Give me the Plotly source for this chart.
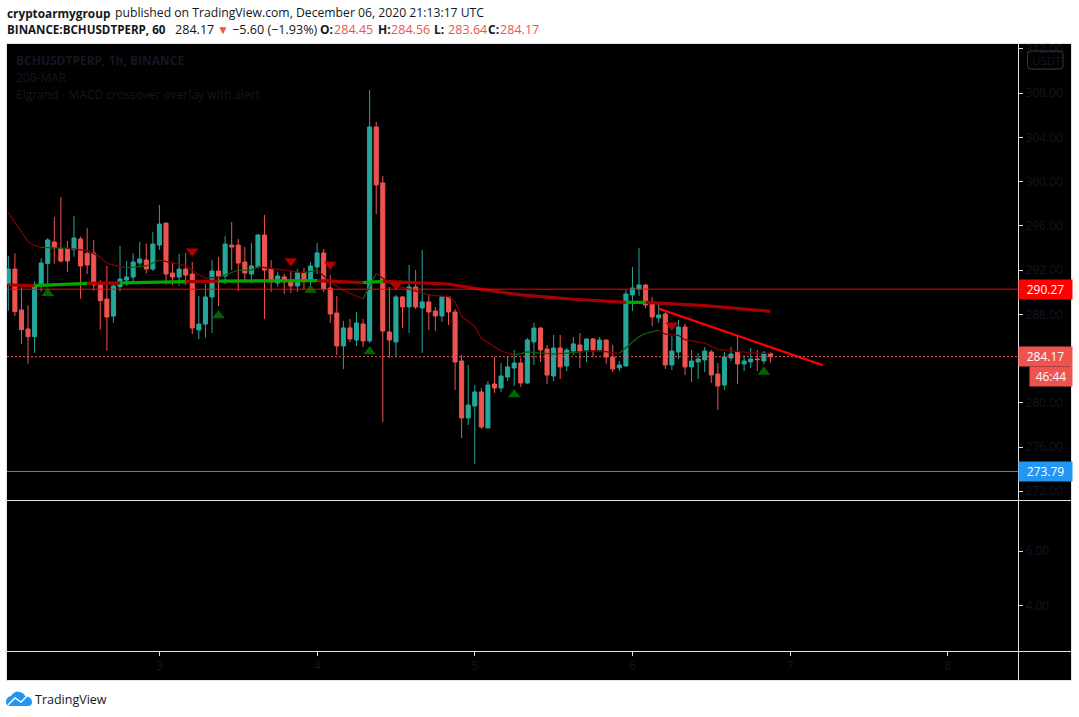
import pandas as pd
import plotly.graph_objects as go

W, H = 1079, 717

# hourly candles
opens = [290.80, 292.09, 288.39, 286.67, 285.98, 290.62, 292.58, 294.54, 293.96, 293.93,
         293.84, 294.81, 293.51, 293.54, 290.71, 289.38, 287.84, 290.50, 291.10, 291.37,
         292.64, 292.91, 292.09, 294.26, 296.25, 291.73, 291.37, 292.09, 291.64, 286.58,
         287.12, 289.56, 291.91, 291.46, 294.26, 294.26, 292.73, 291.64, 292.27, 295.17,
         292.10, 290.83, 291.38, 291.02, 290.56, 291.74, 291.11, 292.28, 293.55, 290.38,
         288.12, 285.14, 286.77, 285.68, 287.13, 285.59, 304.94, 299.88, 286.40, 285.50,
         289.57, 288.67, 290.47, 288.57, 289.12, 288.30, 287.85, 289.57, 288.21, 283.78,
         278.63, 279.71, 280.98, 277.72, 281.70, 281.34, 282.33, 283.15, 283.60, 281.79,
         285.50, 286.76, 284.86, 282.42, 284.95, 283.33, 284.68, 285.23, 284.77, 285.77,
         284.77, 285.68, 284.14, 283.15, 283.33, 289.75, 290.29, 290.65, 288.93, 287.67,
         288.03, 283.42, 284.59, 286.85, 283.24, 283.69, 283.87, 284.59, 282.60, 281.61,
         284.05, 284.59, 283.51, 283.69, 283.96, 283.78, 284.45]
highs = [293.27, 293.51, 290.44, 288.81, 290.98, 293.06, 294.90, 296.80, 298.60, 294.63,
         296.89, 295.02, 295.80, 294.72, 291.10, 292.37, 290.95, 294.17, 292.82, 293.51,
         294.54, 294.41, 295.44, 297.88, 296.25, 292.73, 293.45, 293.54, 292.73, 289.65,
         290.74, 292.91, 293.18, 295.08, 296.34, 294.81, 294.08, 294.44, 295.26, 296.98,
         292.91, 291.86, 291.65, 291.92, 292.10, 292.19, 292.73, 294.45, 293.91, 291.56,
         289.66, 287.40, 287.58, 288.21, 287.58, 308.29, 305.39, 300.51, 290.47, 289.75,
         289.66, 292.46, 292.01, 293.82, 289.84, 288.67, 289.66, 289.66, 288.48, 284.32,
         283.42, 281.61, 281.34, 281.97, 284.14, 283.60, 284.23, 284.77, 284.05, 285.86,
         287.22, 286.85, 285.23, 286.13, 286.13, 284.95, 285.95, 286.31, 285.77, 285.86,
         285.95, 285.68, 285.23, 283.78, 290.20, 292.28, 293.98, 290.74, 289.57, 288.93,
         288.21, 286.04, 287.49, 287.13, 284.77, 284.50, 285.05, 284.77, 283.60, 284.59,
         285.05, 286.04, 284.32, 284.95, 284.77, 284.68, 284.56]
lows = [288.33, 287.84, 285.34, 283.53, 284.50, 290.04, 290.65, 292.58, 292.67, 291.82,
        293.21, 289.41, 291.64, 290.13, 286.61, 284.71, 287.24, 290.04, 290.59, 291.01,
        292.40, 291.70, 291.91, 293.81, 290.68, 290.65, 290.59, 290.65, 286.22, 285.76,
        285.89, 286.31, 288.75, 290.74, 292.00, 290.10, 291.10, 290.80, 292.15, 287.57,
        290.02, 290.50, 289.84, 289.93, 290.02, 290.20, 290.44, 291.65, 290.02, 287.22,
        284.33, 283.06, 285.50, 285.14, 285.05, 285.41, 297.07, 278.27, 284.05, 284.14,
        286.77, 286.31, 288.48, 284.51, 286.59, 286.49, 287.31, 287.03, 281.16, 276.82,
        277.99, 274.47, 277.63, 277.72, 280.89, 280.98, 281.97, 281.52, 281.43, 281.70,
        283.42, 283.69, 281.70, 281.97, 282.15, 282.87, 284.32, 283.15, 283.69, 284.14,
        284.59, 283.51, 282.78, 282.87, 283.24, 288.30, 289.66, 288.57, 286.94, 287.22,
        283.06, 282.97, 283.96, 282.51, 281.88, 282.15, 282.78, 281.79, 279.35, 281.16,
        283.78, 281.70, 282.87, 283.15, 282.87, 283.51, 283.64]
closes = [292.09, 288.24, 286.61, 285.98, 290.62, 292.64, 294.72, 294.02, 292.82, 292.82,
          294.90, 292.37, 292.46, 290.65, 289.23, 287.76, 290.56, 291.19, 291.37, 292.73,
          293.00, 292.09, 294.35, 296.16, 291.64, 291.37, 292.09, 291.55, 286.76, 287.12,
          289.56, 291.91, 291.46, 294.35, 294.08, 292.64, 291.73, 292.37, 295.17, 292.00,
          290.93, 291.47, 290.93, 290.56, 291.74, 291.20, 292.37, 293.55, 290.29, 288.03,
          285.14, 286.77, 285.77, 287.22, 285.59, 304.94, 299.70, 286.49, 285.68, 289.57,
          288.67, 290.47, 288.67, 289.12, 288.21, 287.85, 289.57, 288.21, 283.69, 278.63,
          279.80, 280.98, 277.81, 281.61, 281.34, 282.42, 283.24, 283.60, 281.79, 285.68,
          286.76, 284.77, 282.51, 284.95, 283.24, 284.77, 285.32, 284.68, 285.77, 284.77,
          285.68, 284.14, 283.06, 283.42, 289.84, 290.38, 290.65, 288.84, 287.76, 287.94,
          283.42, 284.68, 286.85, 283.24, 283.78, 283.96, 284.68, 282.51, 281.52, 284.14,
          284.41, 283.51, 283.78, 283.96, 283.90, 284.50, 284.17]

# 200-MAR (thick line): hour index and value, colour changes per segment
mar_segments = [
    ("red", [0, 4], [290.65, 290.60]),
    ("green", [4, 12], [290.60, 290.80]),
    ("red", [12, 17], [290.80, 290.85]),
    ("green", [17, 27], [290.85, 290.95]),
    ("red", [27, 32], [290.95, 291.00]),
    ("green", [32, 40, 47], [291.00, 291.05, 291.05]),
    ("red", [47, 54], [291.05, 290.86]),
    ("green", [54, 57], [290.86, 290.98]),
    ("red", [57, 67, 71, 78, 86, 91, 94], [290.98, 290.74, 290.35, 289.75, 289.36, 289.20, 289.08]),
    ("green", [94, 97], [289.08, 289.08]),
    ("red", [97, 106, 116], [289.08, 288.78, 288.27]),
]

# MACD crossover overlay (thin line)
overlay_segments = [
    ("red", [0, 3, 4, 5], [297.19, 294.57, 294.20, 294.05]),
    ("green", [5, 9], [294.05, 293.96]),
    ("red", [9, 12, 14, 15, 18], [293.96, 293.75, 293.20, 292.60, 292.20]),
    ("green", [18, 21, 23], [292.20, 292.37, 292.90]),
    ("red", [23, 26, 27, 29, 30, 32], [292.90, 292.55, 292.40, 291.55, 291.28, 291.35]),
    ("green", [32, 35, 37, 38], [291.35, 292.00, 292.00, 292.30]),
    ("red", [38, 40, 41, 45], [292.30, 292.15, 292.07, 291.77]),
    ("green", [45, 47], [291.77, 292.00]),
    ("red", [47, 49, 51, 54], [292.00, 290.95, 290.14, 289.39]),
    ("green", [54, 56], [289.39, 291.71]),
    ("red", [56, 58, 60, 64, 67, 68, 69, 71, 72, 74, 75, 77],
     [291.71, 290.80, 290.44, 289.75, 289.60, 289.14, 287.80, 286.90, 285.80, 285.10, 284.70, 284.30]),
    ("green", [77, 79, 83, 87], [284.30, 284.60, 284.40, 284.60]),
    ("red", [87, 90, 93], [284.60, 284.70, 284.47]),
    ("green", [93, 96, 97, 99], [284.47, 285.98, 286.28, 286.58]),
    ("red", [99, 100, 102, 103, 106, 108, 110, 114, 116],
     [286.58, 286.20, 286.10, 285.70, 285.40, 284.83, 284.70, 284.47, 284.47]),
]

# alerts
up_hours = [6, 32, 46, 55, 77, 115]
up_prices = [289.90, 287.90, 290.20, 284.63, 280.74, 282.78]
down_hours = [28, 43, 49, 59, 101]
down_prices = [293.70, 292.82, 292.50, 290.65, 287.00]

# hand drawn trend line
trend_hours = [99, 124]
trend_prices = [288.51, 283.39]

last_price = 284.17
red_level = 290.27
blue_level = 273.79

price_ticks = [272, 276, 280, 284, 288, 292, 296, 300, 304, 308, 312]
lower_ticks = [4, 6]
day_ticks = ["2020-12-03", "2020-12-04", "2020-12-05", "2020-12-06", "2020-12-07", "2020-12-08"]
day_labels = ["3", "4", "5", "6", "7", "8"]

TEAL = "#26a69a"
CORAL = "#ef5350"
FAINT = "#131722"
FRAME = "#e0e3eb"
MAR_COLORS = {"red": "#a80000", "green": "#00a800"}
THIN_COLORS = {"red": "#7a0000", "green": "#0b5d0b"}

times = pd.date_range("2020-12-02 01:00", periods=200, freq="h")


def px(x):
    return x / W


def py(y):
    return 1 - y / H


def rounded_box(x0, y0, x1, y1, r):
    return (f"M{px(x0 + r)},{py(y0)} L{px(x1 - r)},{py(y0)} Q{px(x1)},{py(y0)} {px(x1)},{py(y0 + r)} "
            f"L{px(x1)},{py(y1 - r)} Q{px(x1)},{py(y1)} {px(x1 - r)},{py(y1)} "
            f"L{px(x0 + r)},{py(y1)} Q{px(x0)},{py(y1)} {px(x0)},{py(y1 - r)} "
            f"L{px(x0)},{py(y0 + r)} Q{px(x0)},{py(y0)} {px(x0 + r)},{py(y0)} Z")


fig = go.Figure()

fig.add_trace(go.Candlestick(
    x=times[:len(opens)], open=opens, high=highs, low=lows, close=closes,
    increasing=dict(line=dict(color=TEAL, width=1), fillcolor=TEAL),
    decreasing=dict(line=dict(color=CORAL, width=1), fillcolor=CORAL),
    whiskerwidth=0, showlegend=False, hoverinfo="skip",
))

for color, hours, values in overlay_segments:
    fig.add_trace(go.Scatter(x=times[hours], y=values, mode="lines", showlegend=False, hoverinfo="skip",
                             line=dict(color=THIN_COLORS[color], width=1.3)))

for color, hours, values in mar_segments:
    fig.add_trace(go.Scatter(x=times[hours], y=values, mode="lines", showlegend=False, hoverinfo="skip",
                             line=dict(color=MAR_COLORS[color], width=3.2)))

fig.add_trace(go.Scatter(x=times[trend_hours], y=trend_prices, mode="lines", showlegend=False, hoverinfo="skip",
                         line=dict(color="#ff0000", width=2.2)))
fig.add_trace(go.Scatter(x=times[up_hours], y=up_prices, mode="markers", showlegend=False, hoverinfo="skip",
                         marker=dict(symbol="triangle-up", size=11, color="#006400")))
fig.add_trace(go.Scatter(x=times[down_hours], y=down_prices, mode="markers", showlegend=False, hoverinfo="skip",
                         marker=dict(symbol="triangle-down", size=11, color="#b00000")))

# lower pane is empty in the picture, one line point keeps its axis alive
fig.add_trace(go.Scatter(x=times[:1], y=[5], yaxis="y2", mode="lines", showlegend=False, hoverinfo="skip",
                         line=dict(color="rgba(0,0,0,0)")))

shapes = [
    # black panel with its frame
    dict(type="rect", xref="paper", yref="paper", x0=px(6.5), x1=px(1071.5), y0=py(43.5), y1=py(680.5),
         fillcolor="#000000", line=dict(color=FRAME, width=1), layer="below"),
    # pane separators
    dict(type="line", xref="paper", yref="paper", x0=px(7), x1=px(1071), y0=py(500.5), y1=py(500.5),
         line=dict(color=FRAME, width=1)),
    dict(type="line", xref="paper", yref="paper", x0=px(7), x1=px(1071), y0=py(651.5), y1=py(651.5),
         line=dict(color=FRAME, width=1)),
    dict(type="line", xref="paper", yref="paper", x0=px(1018.5), x1=px(1018.5), y0=py(44), y1=py(680),
         line=dict(color=FRAME, width=1)),
    # price lines
    dict(type="line", xref="x domain", yref="y", x0=0, x1=1, y0=red_level, y1=red_level,
         line=dict(color="#ff0000", width=1)),
    dict(type="line", xref="x domain", yref="y", x0=0, x1=1, y0=blue_level, y1=blue_level,
         line=dict(color="#2196f3", width=1)),
    dict(type="line", xref="x domain", yref="y", x0=0, x1=1, y0=last_price, y1=last_price,
         line=dict(color=CORAL, width=1, dash="2px,2px")),
    # currency tag
    dict(type="path", xref="paper", yref="paper", path=rounded_box(1027.5, 51, 1063, 69, 3),
         line=dict(color="#363a45", width=1)),
    # logo
    dict(type="path", xref="paper", yref="paper", fillcolor="#2196f3", line=dict(width=0),
         path=(f"M{px(6)},{py(702)} Q{px(6)},{py(697)} {px(11)},{py(696)} Q{px(15)},{py(690)} {px(20)},{py(692)} "
               f"Q{px(24)},{py(693)} {px(25)},{py(696)} Q{px(32)},{py(697)} {px(32)},{py(702)} "
               f"Q{px(32)},{py(706)} {px(28)},{py(706)} L{px(10)},{py(706)} Q{px(6)},{py(706)} {px(6)},{py(702)} Z")),
    dict(type="path", xref="paper", yref="paper", line=dict(color="#ffffff", width=1.4),
         path=f"M{px(8)},{py(705)} L{px(15)},{py(698)} L{px(21)},{py(702)} L{px(27)},{py(696)}"),
]

FONT = "Open Sans"
annotations = []


def paper_text(x, y, text, size=12, color="#131722"):
    annotations.append(dict(xref="paper", yref="paper", x=px(x), y=py(y), text=text, showarrow=False,
                            xanchor="left", yanchor="middle", align="left", borderpad=0,
                            font=dict(family=FONT, size=size, color=color)))


paper_text(6, 13, "<b>cryptoarmygroup</b>", size=11.8)
paper_text(114, 13, "published on TradingView.com, December 06, 2020 21:13:17 UTC", size=12.2)
paper_text(6, 29, "<b>BINANCE:BCHUSDTPERP, 60</b>", size=11.6)
paper_text(174, 29, "284.17", size=12.6)
paper_text(216, 29, "▼", size=12, color=CORAL)
paper_text(231, 29, "−5.60 (−1.93%)", size=12.6)
paper_text(319, 29, "<b>O:</b>", size=12)
paper_text(333, 29, "284.45", size=12.6, color=CORAL)
paper_text(377, 29, "<b>H:</b>", size=12)
paper_text(390, 29, "284.56", size=12.6, color=CORAL)
paper_text(433, 29, "<b>L:</b>", size=12)
paper_text(447, 29, "283.64", size=12.6, color=CORAL)
paper_text(487, 29, "<b>C:</b>", size=12)
paper_text(499, 29, "284.17", size=12.6, color=CORAL)
paper_text(15, 60.5, "<b>BCHUSDTPERP, 1h, BINANCE</b>", color=FAINT)
paper_text(15, 77.5, "200-MAR", color=FAINT)
paper_text(15, 94.5, "Elgrand - MACD crossover overlay with alert", color=FAINT)
paper_text(1031, 60, "USDT", size=11.5, color=FAINT)
paper_text(34, 699, "TradingView", size=12.5)


def price_tag(value, text, color, left=1018, shift=0):
    annotations.append(dict(xref="paper", yref="y", x=px(left), y=value, yshift=shift, text=text, showarrow=False,
                            xanchor="left", yanchor="middle", align="center", bgcolor=color, borderpad=0,
                            width=1071 - left, height=19, font=dict(family=FONT, size=12, color="#ffffff")))


price_tag(red_level, "290.27", "#ff0000")
price_tag(last_price, "284.17", CORAL)
price_tag(last_price, "46:44", CORAL, left=1029, shift=-20)
price_tag(blue_level, "273.79", "#2196f3")

tick_font = dict(family=FONT, size=12, color=FAINT)

fig.update_layout(
    width=W, height=H, margin=dict(l=0, r=0, t=0, b=0, pad=0, autoexpand=False),
    paper_bgcolor="#ffffff", plot_bgcolor="rgba(0,0,0,0)",
    boxgap=0.38, boxgroupgap=0, showlegend=False, dragmode=False,
    shapes=shapes, annotations=annotations,
    xaxis=dict(
        domain=[px(7), px(1018)], anchor="y2", type="date",
        range=["2020-12-02 00:48", "2020-12-08 10:41"],
        rangeslider=dict(visible=False), showgrid=False, zeroline=False, showline=False,
        tickmode="array", tickvals=day_ticks, ticktext=day_labels,
        ticks="outside", ticklen=4, tickcolor=FRAME, tickfont=tick_font,
    ),
    yaxis=dict(
        domain=[py(500), py(44)], anchor="x", side="right", range=[271.21, 312.44],
        showgrid=False, zeroline=False, showline=False,
        tickmode="array", tickvals=price_ticks, tickformat=".2f",
        ticks="outside", ticklen=4, tickcolor=FRAME, tickfont=tick_font,
    ),
    yaxis2=dict(
        domain=[py(651), py(501)], anchor="x", side="right", range=[2.36, 7.82],
        showgrid=False, zeroline=False, showline=False,
        tickmode="array", tickvals=lower_ticks, tickformat=".2f",
        ticks="outside", ticklen=4, tickcolor=FRAME, tickfont=tick_font,
    ),
)

# the page's default margin would push the chart off the window
pin_to_corner = ("var g=document.getElementById('{plot_id}');document.body.style.margin='0';"
                 "g.style.position='fixed';g.style.left='0';g.style.top='0';")
fig.write_html("out.html", post_script=pin_to_corner, config={"displayModeBar": False})
